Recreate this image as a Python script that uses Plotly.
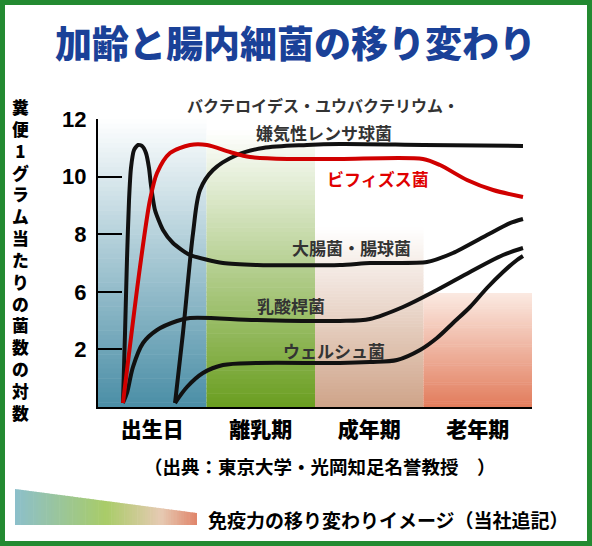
import plotly.graph_objects as go

# ---------------- data ----------------
categories = ["出生日", "離乳期", "成年期", "老年期"]
cat_pos = [0.5, 1.5, 2.5, 3.5]
y_tickvals = [1, 2, 3, 4, 5]
y_ticktext = ["2", "6", "8", "10", "12"]

# 大腸菌・腸球菌 (black, early spike)
coli_x = [0.230, 0.249, 0.267, 0.286, 0.304, 0.332, 0.369, 0.406, 0.442, 0.470, 0.488,
          0.525, 0.599, 0.691, 0.848, 1.152, 1.465, 2.230, 2.507, 3.032, 3.272, 3.585,
          3.797, 3.917]
coli_y = [0.069, 1.285, 2.552, 3.594, 4.149, 4.462, 4.549, 4.531, 4.410, 4.149, 3.854,
          3.420, 3.073, 2.847, 2.639, 2.500, 2.465, 2.465, 2.500, 2.517, 2.674, 2.986,
          3.194, 3.264]

# ビフィズス菌 (red)
bifi_x = [0.230, 0.387, 0.479, 0.544, 0.664, 0.848, 1.005, 1.217, 1.401, 1.770,
          2.230, 2.995, 3.152, 3.401, 3.641, 3.917]
bifi_y = [0.069, 2.431, 3.594, 4.063, 4.410, 4.549, 4.549, 4.427, 4.340, 4.306,
          4.306, 4.306, 4.201, 3.941, 3.767, 3.646]

# バクテロイデス・ユウバクテリウム・嫌気性レンサ球菌 (black, top)
bact_x = [0.710, 0.783, 0.876, 0.940, 1.060, 1.281, 1.521, 1.926, 2.230, 3.000, 3.917]
bact_y = [0.069, 1.285, 3.021, 3.767, 4.115, 4.375, 4.497, 4.549, 4.566, 4.550, 4.531]

# 乳酸桿菌
lacto_x = [0.230, 0.267, 0.322, 0.415, 0.544, 0.728, 0.848, 1.465, 2.230, 2.507,
           2.811, 3.124, 3.429, 3.733, 3.917]
lacto_y = [0.069, 0.243, 0.694, 1.111, 1.337, 1.493, 1.545, 1.510, 1.493, 1.528,
           1.736, 2.031, 2.344, 2.639, 2.760]

# ウェルシュ菌
perf_x = [0.710, 0.820, 0.967, 1.152, 1.465, 2.230, 2.507, 2.756, 2.968, 3.124, 3.272,
          3.429, 3.585, 3.733, 3.862, 3.917]
perf_y = [0.069, 0.347, 0.590, 0.729, 0.764, 0.764, 0.781, 0.816, 0.990, 1.198, 1.458,
          1.736, 2.066, 2.344, 2.552, 2.622]

curves = [
    (coli_x, coli_y, "#111111", 0.6),
    (lacto_x, lacto_y, "#111111", 0.9),
    (perf_x, perf_y, "#111111", 0.9),
    (bact_x, bact_y, "#111111", 0.9),
    (bifi_x, bifi_y, "#d00000", 0.8),
]

# ---------------- layout geometry ----------------
W, H = 592, 546
L, R, T, B = 98, 60, 119, 139
PW = W - L - R
PH = H - T - B

def px(x):
    return (x - L) / PW

def py(y):
    return (H - B - y) / PH

def hex2rgb(h):
    h = h.lstrip("#")
    return tuple(int(h[i:i + 2], 16) for i in (0, 2, 4))

def mix(c1, c2, t):
    a, b = hex2rgb(c1), hex2rgb(c2)
    return "rgb(%d,%d,%d)" % tuple(round(a[i] + (b[i] - a[i]) * t) for i in range(3))

def multi(stops, t):
    for i in range(len(stops) - 1):
        p0, c0 = stops[i]
        p1, c1 = stops[i + 1]
        if t <= p1:
            return mix(c0, c1, (t - p0) / (p1 - p0) if p1 > p0 else 0)
    return mix(stops[-1][1], stops[-1][1], 0)

shapes = []

# background gradient bands (data coords)
bands = [
    (0, 1, 5.0, "#ffffff", "#4a8ea6"),
    (1, 2, 4.8, "#ffffff", "#6a9e20"),
    (2, 3, 3.12, "#ffffff", "#cfa489"),
    (3, 4, 1.98, "#fbeae2", "#e27c5c"),
]
N = 60
for x0, x1, top, ctop, cbot in bands:
    for i in range(N):
        ya = top - top * i / N
        yb = top - top * (i + 1) / N
        shapes.append(dict(type="rect", xref="x", yref="y", x0=x0, x1=x1,
                           y0=yb - 0.01, y1=ya, line=dict(width=0),
                           fillcolor=mix(ctop, cbot, (i + 0.5) / N), layer="below"))

# immune-power triangle at bottom
tx0, tx1 = 15, 197
ty_left, ty_right, ty_bot = 489, 513, 525
tri_stops = [(0.0, "#8cbfcb"), (0.5, "#a9cc68"), (0.8, "#e6cab3"), (1.0, "#e0856a")]
M = 70
for i in range(M):
    xa = tx0 + (tx1 - tx0) * i / M
    xb = min(tx0 + (tx1 - tx0) * (i + 1) / M + 0.6, tx1)
    ya = ty_left + (ty_right - ty_left) * (xa - tx0) / (tx1 - tx0)
    yb = ty_left + (ty_right - ty_left) * (xb - tx0) / (tx1 - tx0)
    path = "M %f,%f L %f,%f L %f,%f L %f,%f Z" % (
        px(xa), py(ty_bot), px(xa), py(ya), px(xb), py(yb), px(xb), py(ty_bot))
    shapes.append(dict(type="path", xref="paper", yref="paper", path=path,
                       line=dict(width=0), fillcolor=multi(tri_stops, (i + 0.5) / M)))

# green frame
shapes.append(dict(type="rect", xref="paper", yref="paper",
                   x0=px(2.5), x1=px(W - 2.5), y0=py(2.5), y1=py(H - 2.5),
                   line=dict(color="#238a31", width=5), fillcolor="rgba(0,0,0,0)"))

fig = go.Figure()
for xs, ys, col, sm in curves:
    fig.add_trace(go.Scatter(x=xs, y=ys, mode="lines",
                             line=dict(color=col, width=4, shape="spline", smoothing=sm),
                             hoverinfo="skip", showlegend=False))

JP = "Noto Sans CJK JP"
ann = []

def text(x, y, s, size, color="#333333", weight="bold", xanchor="center", **kw):
    d = dict(xref="paper", yref="paper", x=px(x), y=py(y), text=s,
             showarrow=False, xanchor=xanchor, yanchor="middle",
             font=dict(family=JP, size=size, color=color, weight=weight))
    d.update(kw)
    ann.append(d)

text(295, 42, "加齢と腸内細菌の移り変わり", 37, color="#1a4198", weight=900)
text(323, 105, "バクテロイデス・ユウバクテリウム・", 16)
text(324, 132, "嫌気性レンサ球菌", 17)
text(378, 178, "ビフィズス菌", 17, color="#e00000")
text(351, 247, "大腸菌・腸球菌", 17)
text(291, 305, "乳酸桿菌", 17)
text(334, 350, "ウェルシュ菌", 17)
text(320, 466, "（出典：東京大学・光岡知足名誉教授　）", 18.5, color="#000000")
text(388, 519, "免疫力の移り変わりイメージ（当社追記）", 19, color="#000000")

# vertical (stacked) y-axis title
ylabel = "糞便1グラム当たりの菌数の対数"
text(20, 260, "<br>".join(ylabel), 16.8, color="#000000", weight=900)

fig.update_layout(
    width=W, height=H,
    margin=dict(l=L, r=R, t=T, b=B, autoexpand=False),
    paper_bgcolor="white", plot_bgcolor="white",
    shapes=shapes, annotations=ann, showlegend=False,
    xaxis=dict(range=[0, 4], showgrid=False, zeroline=False, showline=True,
               linecolor="black", linewidth=2, ticks="", tickvals=cat_pos,
               ticktext=categories, ticklabelstandoff=3,
               tickfont=dict(family=JP, size=21, color="black", weight=900),
               fixedrange=True),
    yaxis=dict(range=[0, 5], showgrid=False, zeroline=False, showline=True,
               linecolor="black", linewidth=2, ticks="inside", ticklen=24,
               tickwidth=1.5, tickcolor="black", tickvals=y_tickvals,
               ticktext=y_ticktext, ticklabelstandoff=5,
               tickfont=dict(family="Liberation Sans", size=22, color="black", weight="bold"),
               fixedrange=True),
)

fig.write_html("out.html", config={"displayModeBar": False},
               post_script="document.body.style.margin='0';document.body.style.overflow='hidden';")
